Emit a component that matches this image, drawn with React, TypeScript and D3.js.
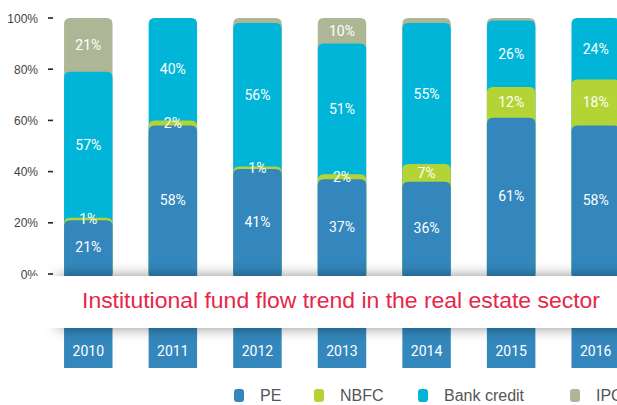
import React, { useRef, useEffect } from 'react';
import * as d3 from 'd3';

const years = ['2010', '2011', '2012', '2013', '2014', '2015', '2016'];
const pe = [21, 58, 41, 37, 36, 61, 58];
const nbfc = [1, 2, 1, 2, 7, 12, 18];
const bankCredit = [57, 40, 56, 51, 55, 26, 24];
const ipc = [21, 0, 2, 10, 2, 1, 0];
const yTicks = [0, 20, 40, 60, 80, 100];

const seriesNames = ['PE', 'NBFC', 'Bank credit', 'IPC'];
const seriesColors = ['#3387bc', '#b4d334', '#00b5d8', '#aeb795'];
const title = 'Institutional fund flow trend in the real estate sector';

const W = 617;
const H = 405;

// rect with rounded top corners only
const topRounded = (x: number, y: number, w: number, h: number, r: number) => {
    const rr = Math.min(r, h, w / 2);
    return `M${x},${y + h}V${y + rr}Q${x},${y} ${x + rr},${y}H${x + w - rr}Q${x + w},${y} ${x + w},${y + rr}V${y + h}Z`;
};

const App = () => {
    const svgRef = useRef<SVGSVGElement>(null);

    useEffect(() => {
        const svg = d3.select(svgRef.current);
        svg.selectAll('*').remove();

        const x = d3.scaleBand<string>()
            .domain(years)
            .range([46, 638])
            .paddingInner(0.427)
            .paddingOuter(0.2135);

        const y = d3.scaleLinear().domain([0, 100]).range([274, 18]);
        const barBottom = 368;

        const defs = svg.append('defs');
        const f = defs.append('filter').attr('id', 'bannerShadow')
            .attr('x', '-10%').attr('y', '-60%').attr('width', '120%').attr('height', '220%');
        f.append('feDropShadow')
            .attr('dx', 0).attr('dy', 0)
            .attr('stdDeviation', 7)
            .attr('flood-color', '#000')
            .attr('flood-opacity', 0.45);

        const grad = defs.append('linearGradient').attr('id', 'bannerFade')
            .attr('x1', 0).attr('x2', 1).attr('y1', 0).attr('y2', 0);
        grad.append('stop').attr('offset', '0%').attr('stop-color', '#fff').attr('stop-opacity', 0);
        grad.append('stop').attr('offset', '6%').attr('stop-color', '#fff').attr('stop-opacity', 1);

        const data = years.map((yr, i) => ({ year: yr, vals: [pe[i], nbfc[i], bankCredit[i], ipc[i]] }));
        const stack = d3.stack<any>().keys(['0', '1', '2', '3'])
            .value((d, k) => d.vals[+k]);
        const layers = stack(data);

        const bars = svg.append('g');
        // draw from top layer down so lower layers overlap the ones above
        for (let s = 3; s >= 0; s--) {
            layers[s].forEach((seg, i) => {
                const v = seg[1] - seg[0];
                if (v <= 0) return;
                const x0 = x(years[i])!;
                const top = y(seg[1]);
                const bottom = s === 0 ? barBottom : y(0);
                bars.append('path')
                    .attr('d', topRounded(x0, top, x.bandwidth(), bottom - top, 6))
                    .attr('fill', seriesColors[s]);
            });
        }

        // value labels
        const labels = svg.append('g')
            .attr('font-family', 'Roboto, "Liberation Sans", sans-serif')
            .attr('font-size', 14)
            .attr('fill', '#fff')
            .attr('text-anchor', 'middle');
        for (let s = 0; s < 4; s++) {
            layers[s].forEach((seg, i) => {
                const v = seg[1] - seg[0];
                if (v <= 0 || (s === 3 && v < 5)) return;
                labels.append('text')
                    .attr('x', x(years[i])! + x.bandwidth() / 2)
                    .attr('y', (y(seg[0]) + y(seg[1])) / 2 + 5)
                    .text(`${v}%`);
            });
        }

        // y axis
        const axis = svg.append('g');
        yTicks.forEach(t => {
            axis.append('line')
                .attr('x1', 48).attr('x2', 53)
                .attr('y1', y(t)).attr('y2', y(t))
                .attr('stroke', '#222').attr('stroke-width', 1.6);
            axis.append('text')
                .attr('x', 38).attr('y', y(t) + 4.5)
                .attr('text-anchor', 'end')
                .attr('font-family', '"Liberation Sans", Arial, sans-serif')
                .attr('font-size', 12)
                .attr('fill', '#444')
                .text(`${t}%`);
        });

        // banner
        svg.append('rect')
            .attr('x', 58).attr('y', 276)
            .attr('width', 580).attr('height', 52)
            .attr('fill', '#fff')
            .attr('filter', 'url(#bannerShadow)');
        svg.append('rect')
            .attr('x', 30).attr('y', 276)
            .attr('width', 60).attr('height', 52)
            .attr('fill', 'url(#bannerFade)');
        svg.append('text')
            .attr('x', 82).attr('y', 308)
            .attr('textLength', 518)
            .attr('lengthAdjust', 'spacingAndGlyphs')
            .attr('font-family', '"Liberation Sans", Arial, sans-serif')
            .attr('font-size', 22)
            .attr('fill', '#e8254a')
            .text(title);

        // year labels
        svg.append('g').selectAll('text')
            .data(years)
            .enter().append('text')
            .attr('x', d => x(d)! + x.bandwidth() / 2)
            .attr('y', 356)
            .attr('text-anchor', 'middle')
            .attr('font-family', 'Roboto, "Liberation Sans", sans-serif')
            .attr('font-size', 14)
            .attr('fill', '#fff')
            .text(d => d);

        // legend
        const legendX = [234, 314, 418, 570];
        const legend = svg.append('g');
        seriesNames.forEach((name, i) => {
            legend.append('rect')
                .attr('x', legendX[i]).attr('y', 389)
                .attr('width', 10).attr('height', 13)
                .attr('rx', 3)
                .attr('fill', seriesColors[i]);
            legend.append('text')
                .attr('x', legendX[i] + 26).attr('y', 401)
                .attr('font-family', '"Liberation Sans", Arial, sans-serif')
                .attr('font-size', 16)
                .attr('fill', '#555')
                .text(name);
        });
    }, []);

    return (
        <svg
            ref={svgRef}
            width={W}
            height={H}
            style={{ position: 'absolute', left: 0, top: 0, background: '#fff' }}
        ></svg>
    );
};

export default App;
